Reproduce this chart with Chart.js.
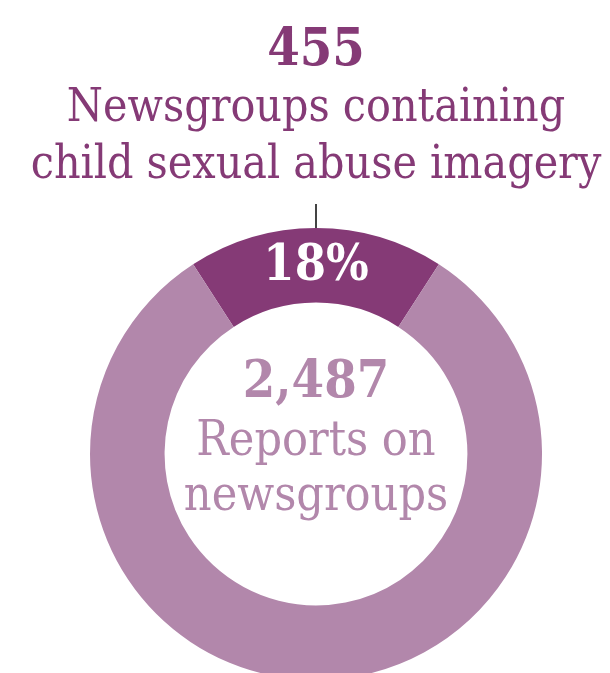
<!DOCTYPE html>
<html>
<head>
<meta charset="utf-8">
<script src="https://cdn.jsdelivr.net/npm/chart.js@4"></script>
<style>
  html, body { margin: 0; padding: 0; background: #fff; }
  body { width: 610px; height: 673px; overflow: hidden; position: relative; font-family: "DejaVu Serif Condensed", "DejaVu Serif", serif; }
  #wrap { position: absolute; left: 0; top: 0; width: 610px; height: 680px; }
  .txt { position: absolute; left: 0; width: 632px; text-align: center; white-space: nowrap; }
  #topNum { top: 17px; font-size: 52px; line-height: 60px; font-weight: bold; color: #853a76; }
  #topLbl { top: 77px; font-size: 46px; line-height: 57px; color: #853a76; }
  #midNum { top: 349px; font-size: 52px; line-height: 60px; font-weight: bold; color: #b287ab; }
  #midLbl { top: 411px; font-size: 48px; line-height: 55px; color: #b287ab; }
</style>
</head>
<body>
<div id="wrap"><canvas id="myChart"></canvas></div>
<div class="txt" id="topNum">455</div>
<div class="txt" id="topLbl">Newsgroups containing<br>child sexual abuse imagery</div>
<div class="txt" id="midNum">2,487</div>
<div class="txt" id="midLbl">Reports on<br>newsgroups</div>
<script>
const labels = ['Newsgroups containing child sexual abuse imagery', 'Other newsgroup reports'];
const values = [455, 2032];
const colors = ['#853a76', '#b287ab'];

const total = values[0] + values[1];
const share = Math.round(values[0] / total * 100) + '%';

// label inside the dark slice + little pointer line above it
const sliceLabel = {
  id: 'sliceLabel',
  afterDraw(chart) {
    const c = chart.ctx;
    const arc = chart.getDatasetMeta(0).data[0];
    const mid = (arc.startAngle + arc.endAngle) / 2;
    const r = arc.outerRadius;
    const x0 = arc.x + Math.cos(mid) * r;
    const y0 = arc.y + Math.sin(mid) * r;
    c.save();
    c.strokeStyle = '#444';
    c.lineWidth = 2;
    c.beginPath();
    c.moveTo(x0, y0);
    c.lineTo(x0, y0 - 24);
    c.stroke();
    const p = arc.tooltipPosition();
    c.fillStyle = '#fff';
    c.font = 'bold 50px "DejaVu Serif Condensed", "DejaVu Serif", serif';
    c.textAlign = 'center';
    c.textBaseline = 'middle';
    c.fillText(share, p.x, p.y + 2);
    c.restore();
  }
};

const ctx = document.getElementById('myChart');
new Chart(ctx, {
  type: 'doughnut',
  data: {
    labels: labels,
    datasets: [{
      data: values,
      backgroundColor: colors,
      borderWidth: 0
    }]
  },
  options: {
    responsive: true,
    maintainAspectRatio: false,
    animation: false,
    cutout: '67%',
    rotation: -(values[0] / total) * 180,
    layout: { padding: { left: 90, right: 68, top: 228, bottom: 0 } },
    plugins: {
      legend: { display: false },
      tooltip: { enabled: false }
    }
  },
  plugins: [sliceLabel]
});
</script>
</body>
</html>
